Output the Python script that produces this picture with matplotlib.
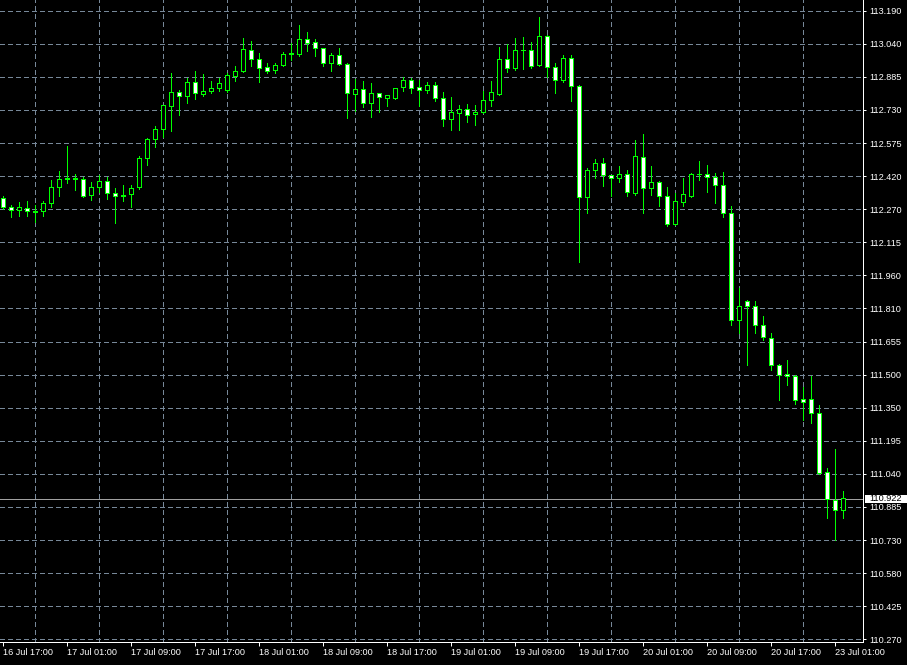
import matplotlib
matplotlib.use('Agg')
import matplotlib.pyplot as plt
import matplotlib.transforms as mtransforms
from matplotlib.patches import Rectangle
import numpy as np

plt.rcParams['font.family'] = ['Liberation Sans', 'DejaVu Sans']
plt.rcParams['lines.scale_dashes'] = False

# hourly USDJPY-like bars, 16 Jul 17:00 .. 23 Jul 02:00
opens = [112.319, 112.277, 112.263, 112.272, 112.258, 112.258, 112.295, 112.370, 112.405, 112.411,
         112.407, 112.333, 112.370, 112.398, 112.342, 112.333, 112.336, 112.369, 112.503, 112.593,
         112.637, 112.744, 112.811, 112.791, 112.857, 112.800, 112.814, 112.828, 112.818, 112.883,
         112.907, 113.006, 112.964, 112.927, 112.911, 112.935, 112.986, 112.986, 113.057, 113.043,
         113.015, 112.944, 112.984, 112.942, 112.800, 112.822, 112.760, 112.806, 112.781, 112.784,
         112.831, 112.868, 112.831, 112.818, 112.843, 112.783, 112.686, 112.712, 112.733, 112.707,
         112.716, 112.772, 112.803, 112.961, 112.921, 113.003, 113.007, 112.935, 113.072, 112.927,
         112.865, 112.970, 112.840, 112.323, 112.447, 112.481, 112.425, 112.410, 112.430, 112.342,
         112.509, 112.363, 112.393, 112.328, 112.199, 112.300, 112.329, 112.427, 112.431, 112.416,
         112.380, 112.249, 111.750, 111.840, 111.818, 111.729, 111.668, 111.543, 111.498, 111.493,
         111.385, 111.385, 111.320, 111.046, 110.917, 110.867]
highs = [112.329, 112.286, 112.302, 112.306, 112.286, 112.306, 112.404, 112.445, 112.563, 112.431,
         112.416, 112.396, 112.427, 112.419, 112.365, 112.380, 112.380, 112.515, 112.597, 112.654,
         112.754, 112.899, 112.822, 112.876, 112.909, 112.896, 112.862, 112.876, 112.899, 112.933,
         113.062, 113.049, 112.992, 112.946, 112.946, 113.000, 113.039, 113.124, 113.090, 113.057,
         113.019, 112.992, 113.017, 112.948, 112.871, 112.863, 112.853, 112.810, 112.798, 112.833,
         112.883, 112.876, 112.868, 112.857, 112.857, 112.812, 112.788, 112.752, 112.757, 112.752,
         112.817, 112.863, 113.021, 113.037, 113.065, 113.069, 113.046, 113.162, 113.077, 112.948,
         112.984, 112.984, 112.845, 112.458, 112.501, 112.504, 112.429, 112.469, 112.450, 112.589,
         112.617, 112.469, 112.400, 112.372, 112.342, 112.414, 112.434, 112.492, 112.473, 112.435,
         112.441, 112.283, 111.900, 111.846, 111.841, 111.772, 111.694, 111.549, 111.567, 111.500,
         111.443, 111.493, 111.358, 111.064, 111.154, 110.959]
lows = [112.269, 112.230, 112.236, 112.236, 112.210, 112.236, 112.280, 112.331, 112.388, 112.357,
        112.323, 112.311, 112.349, 112.317, 112.202, 112.307, 112.277, 112.360, 112.473, 112.558,
        112.602, 112.631, 112.706, 112.763, 112.778, 112.794, 112.806, 112.818, 112.814, 112.865,
        112.903, 112.933, 112.860, 112.902, 112.902, 112.931, 112.961, 112.980, 113.003, 112.980,
        112.933, 112.910, 112.936, 112.693, 112.725, 112.744, 112.698, 112.721, 112.747, 112.780,
        112.818, 112.809, 112.749, 112.809, 112.772, 112.654, 112.636, 112.636, 112.674, 112.659,
        112.713, 112.747, 112.800, 112.905, 112.915, 112.918, 112.922, 112.931, 112.883, 112.809,
        112.859, 112.772, 112.024, 112.252, 112.414, 112.376, 112.329, 112.396, 112.329, 112.334,
        112.249, 112.334, 112.283, 112.191, 112.196, 112.284, 112.326, 112.404, 112.349, 112.298,
        112.233, 111.730, 111.691, 111.544, 111.694, 111.660, 111.521, 111.382, 111.451, 111.363,
        111.289, 111.276, 111.038, 110.835, 110.731, 110.835]
closes = [112.277, 112.263, 112.274, 112.258, 112.254, 112.295, 112.370, 112.407, 112.411, 112.405,
          112.326, 112.370, 112.398, 112.342, 112.328, 112.328, 112.365, 112.504, 112.593, 112.639,
          112.751, 112.811, 112.791, 112.857, 112.806, 112.816, 112.830, 112.853, 112.887, 112.909,
          113.011, 112.964, 112.921, 112.907, 112.936, 112.988, 112.992, 113.057, 113.039, 113.015,
          112.944, 112.984, 112.939, 112.804, 112.822, 112.760, 112.806, 112.786, 112.794, 112.830,
          112.868, 112.828, 112.818, 112.843, 112.783, 112.686, 112.715, 112.729, 112.702, 112.719,
          112.775, 112.808, 112.961, 112.921, 113.007, 113.007, 112.933, 113.072, 112.925, 112.865,
          112.970, 112.837, 112.323, 112.450, 112.481, 112.424, 112.410, 112.431, 112.345, 112.515,
          112.363, 112.393, 112.326, 112.199, 112.305, 112.337, 112.431, 112.431, 112.415, 112.377,
          112.249, 111.750, 111.818, 111.815, 111.727, 111.671, 111.541, 111.494, 111.490, 111.378,
          111.370, 111.320, 111.041, 110.920, 110.867, 110.922]

time_labels = ['16 Jul 17:00', '17 Jul 01:00', '17 Jul 09:00', '17 Jul 17:00', '18 Jul 01:00',
               '18 Jul 09:00', '18 Jul 17:00', '19 Jul 01:00', '19 Jul 09:00', '19 Jul 17:00',
               '20 Jul 01:00', '20 Jul 09:00', '20 Jul 17:00', '23 Jul 01:00']
price_labels = ['113.190', '113.040', '112.885', '112.730', '112.575', '112.420', '112.270',
                '112.115', '111.960', '111.810', '111.655', '111.500', '111.350', '111.195',
                '111.040', '110.885', '110.730', '110.580', '110.425', '110.270']
last_price = 110.922

W, H = 907, 665
fig = plt.figure(figsize=(W / 100, H / 100), dpi=100, facecolor='black')
ax = fig.add_axes([0, 23 / H, 863 / W, 642 / H])
ax.set_facecolor('black')

green = '#00ff00'
px = 0.72  # one pixel in points

ymin, ymax = 110.2575, 113.2397
xmin = -0.4125
ax.set_xlim(xmin, xmin + 863 / 8)
ax.set_ylim(ymin, ymax)
ypx = (ymax - ymin) / 642   # price per pixel
xpx = 1 / 8                 # bar units per pixel

for i, (o, h, l, c) in enumerate(zip(opens, highs, lows, closes)):
    ax.vlines(i, l, h, color=green, lw=px, zorder=2, antialiased=False)
    lo, hi = min(o, c), max(o, c)
    # outline: green block, then fill inset by one pixel
    ax.add_patch(Rectangle((i - 2.5 * xpx, lo - ypx / 2), 5 * xpx, hi - lo + ypx,
                           facecolor=green, lw=0, zorder=3, antialiased=False))
    if hi - lo > ypx:
        face = 'black' if c > o else 'white'
        ax.add_patch(Rectangle((i - 1.5 * xpx, lo + ypx / 2), 3 * xpx, hi - lo - ypx,
                               facecolor=face, lw=0, zorder=4, antialiased=False))

# bid line
ax.axhline(last_price, color='#a0a0a0', lw=px, zorder=1.5, antialiased=False)

yt = np.linspace(113.190, 110.270, len(price_labels))
ax.yaxis.tick_right()
ax.set_yticks(yt)
ax.set_yticklabels(price_labels)
ax.tick_params(axis='y', colors='white', labelsize=6.6, length=2.2, width=px, pad=2.6)

ax.set_xticks(range(0, 8 * len(time_labels), 8))
ax.set_xticklabels(time_labels, ha='left')
ax.set_xticks(range(0, 108, 4), minor=True)
ax.tick_params(axis='x', colors='white', labelsize=6.6, length=2.9, width=px, pad=1.5)
ax.tick_params(axis='x', which='minor', length=0)

ax.set_axisbelow(True)
dash = (0, (2.9, 2.2))
ax.grid(axis='x', which='minor', color='#778899', lw=px, linestyle=dash, antialiased=False)
ax.grid(axis='y', which='major', color='#778899', lw=px, linestyle=dash, antialiased=False)

for s in ['left', 'top']:
    ax.spines[s].set_visible(False)
for s in ['right', 'bottom']:
    ax.spines[s].set_color('white')
    ax.spines[s].set_linewidth(px)

# current price tag on the price scale
trans = mtransforms.blended_transform_factory(ax.transAxes, ax.transData)
ax.add_patch(Rectangle((1.0023, last_price - 0.019), 0.0487, 0.038, transform=trans,
                       facecolor='white', edgecolor='white', lw=0, clip_on=False, zorder=6))
ax.text(1.0077, last_price, '%.3f' % last_price, transform=trans, color='black',
        fontsize=6.6, va='center', ha='left', clip_on=False, zorder=7)

fig.savefig('out.png', dpi=100, facecolor='black')
